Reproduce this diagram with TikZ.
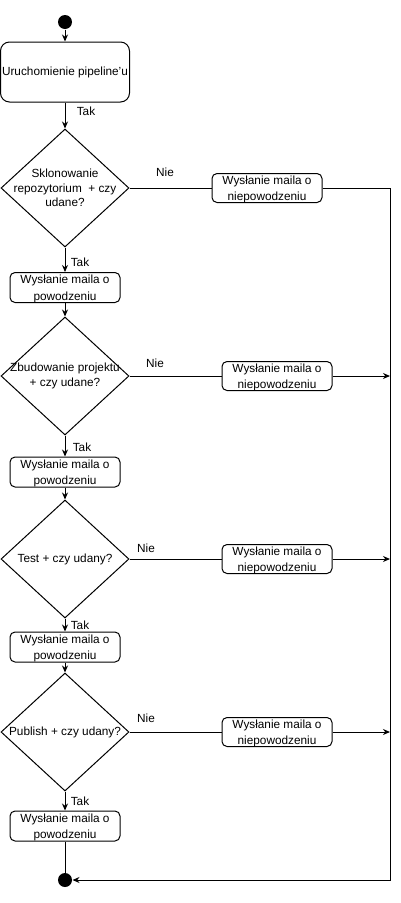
\documentclass[tikz,border=0pt]{standalone}
\usepackage{fontspec}
\setmainfont{Liberation Sans}
\usetikzlibrary{shapes.geometric,arrows.meta}

\begin{document}
\begin{tikzpicture}[x=1pt,y=-1pt,line width=1pt,>={Stealth[length=7pt,width=6pt]},
  every node/.style={font=\fontsize{11.8}{16.5}\selectfont},
  box/.style={draw,rounded corners=5pt,minimum width=110pt,minimum height=30pt,inner sep=0pt,align=center,text depth=0pt},
  decision/.style={draw,diamond,minimum width=128pt,minimum height=118pt,inner sep=0pt},
  qtext/.style={align=center,inner sep=0pt,font=\fontsize{11.8}{14.5}\selectfont},
  dot/.style={circle,fill,inner sep=0pt,minimum size=14pt}]
\useasboundingbox (0,0) rectangle (401,903);
%\draw[help lines,step=50] (0,0) grid (401,903);
\node[dot] (start) at (65,22) {};
\node[dot] (end) at (65,880) {};
\node[box,minimum width=129pt,minimum height=60pt,rounded corners=9pt,text depth=2.5pt] (run) at (65,72) {Uruchomienie pipeline'u};
\foreach \y/\n/\t in {188/d1/Sklonowanie\\repozytorium~ + czy\\udane?, 376/d2/Zbudowanie projektu\\+ czy udane?, 559/d3/Test + czy udany?, 732/d4/Publish + czy udany?}
  \node[decision,label={[qtext]center:\t}] (\n) at (65,\y) {};
\foreach \y/\n in {287.5/s1, 472/s2, 647/s3, 826/s4}
  \node[box] (\n) at (65,\y) {Wysłanie maila o\\powodzeniu};
\foreach \x/\y/\n in {267/188/f1, 277/376/f2, 277/559/f3, 277/732/f4}
  \node[box,minimum height=29pt] (\n) at (\x,\y) {Wysłanie maila o\\niepowodzeniu};
\foreach \x/\y/\n/\t in {86/111/t1/Tak, 80/262/t2/Tak, 82/447/t3/Tak, 80/625/t4/Tak, 80/801/t5/Tak, 165/172/n1/Nie, 155/363/n2/Nie, 146/548/n3/Nie, 146/718/n4/Nie}
  \node (\n) at (\x,\y) {\t};
\coordinate (rail) at (390,188);
\foreach \s/\t in {start/run, run/d1, d1/s1, s1/d2, d2/s2, s2/d3, d3/s3, s3/d4, d4/s4}
  \draw[->] (\s) -- (\t);
\foreach \s/\t in {d1/f1, d2/f2, d3/f3, d4/f4, s4/end}
  \draw (\s) -- (\t);
\draw[->] (f1) -- (rail) |- (end);
\foreach \s in {f2, f3, f4}
  \draw[->] (\s) -- (\s -| rail);
\end{tikzpicture}
\end{document}
